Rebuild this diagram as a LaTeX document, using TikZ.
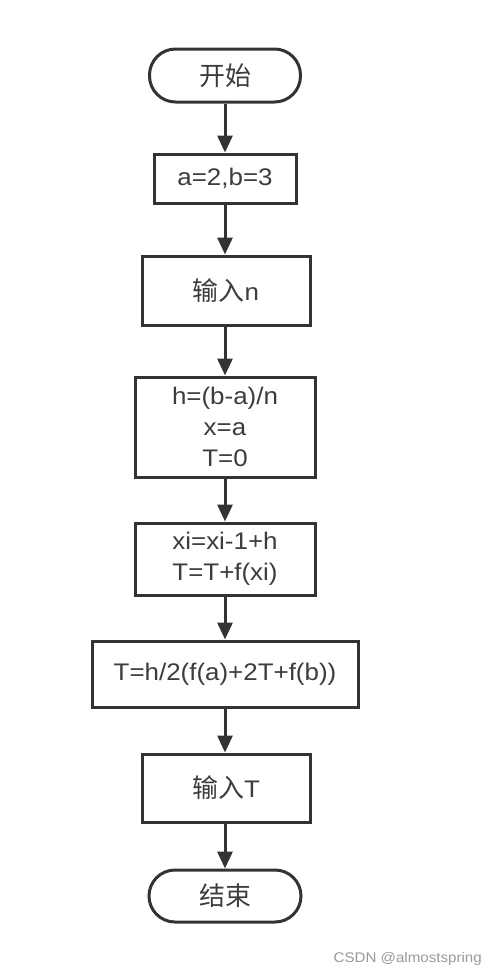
\documentclass[tikz,border=0pt]{standalone}
\usepackage{fontspec}
\setmainfont{Liberation Sans}[FakeStretch=1.08]
\newfontfamily\cjk{Noto Sans CJK SC}[Scale=1.08]
\usetikzlibrary{arrows.meta}
\definecolor{ln}{HTML}{333333}
\definecolor{tx}{HTML}{3C3C3C}
\tikzset{
  box/.style={draw=ln, line width=3pt, rectangle, text=tx, align=center, inner sep=0pt,
    font=\fontsize{24}{31}\selectfont},
  term/.style={box, rounded corners=26pt},
  arr/.style={draw=ln, line width=3pt, -{Triangle[length=17pt,width=15pt]}}
}
\begin{document}
\begin{tikzpicture}[x=1pt,y=-1pt]
\useasboundingbox (0,0) rectangle (490,969);
\fill[white] (0,0) rectangle (490,969);
\node[term, minimum width=151pt, minimum height=53pt] (start) at (225,75.5) {\cjk 开始};
\node[box, minimum width=142pt, minimum height=49pt] (n1) at (225,178.5) {a=2,b=3};
\node[box, minimum width=168pt, minimum height=69pt] (n2) at (226,290.5) {{\cjk 输入}n};
\node[box, minimum width=180pt, minimum height=100pt] (n3) at (225,427) {h=(b-a)/n\\x=a\\T=0};
\node[box, minimum width=180pt, minimum height=72pt] (n4) at (225,559) {xi=xi-1+h\\T=T+f(xi)};
\node[box, minimum width=266pt, minimum height=66pt] (n5) at (225,674) {T=h/2(f(a)+2T+f(b))};
\node[box, minimum width=168pt, minimum height=68pt] (n6) at (226,788) {{\cjk 输入}T};
\node[term, minimum width=152pt, minimum height=52pt] (end) at (225,896) {\cjk 结束};
\draw[arr] (start.south) -- (n1.north);
\draw[arr] (n1.south) -- (n2.north -| n1.south);
\draw[arr] (n2.south -| n1.south) -- (n3.north);
\draw[arr] (n3.south) -- (n4.north);
\draw[arr] (n4.south) -- (n5.north);
\draw[arr] (n5.south) -- (n6.north -| n5.south);
\draw[arr] (n6.south -| n5.south) -- (end.north);
\node[anchor=base east, text=black!40, inner sep=0pt, font=\fontsize{14}{16}\selectfont] (wm) at (482,962) {CSDN @almostspring};
\end{tikzpicture}
\end{document}
